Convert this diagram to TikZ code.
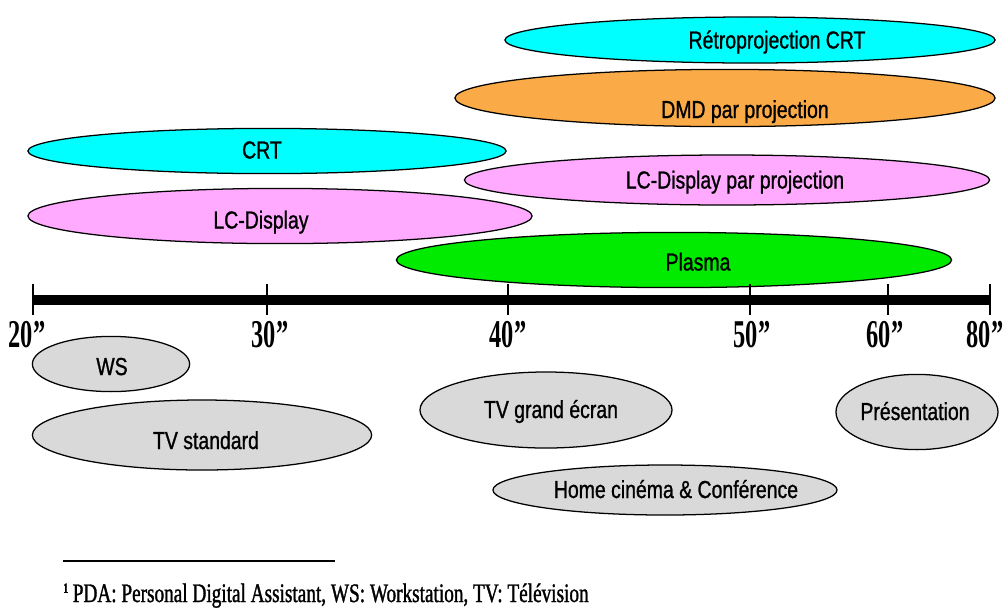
\documentclass[tikz,border=0pt]{standalone}
\usepackage{fontspec}
\usepackage{xcolor}
\usepackage{tikz}
\usetikzlibrary{shapes.geometric}

\newfontfamily\bandfont[FakeStretch=0.79,FakeBold=1]{Liberation Sans}
\newfontfamily\tickfont[FakeStretch=0.62]{Liberation Serif}
\newfontfamily\notefont[FakeStretch=0.72,FakeBold=1.2]{Liberation Serif}

\definecolor{crtcyan}{RGB}{0,255,255}
\definecolor{dmdorange}{RGB}{250,170,70}
\definecolor{lcdpink}{RGB}{255,170,255}
\definecolor{plasmagreen}{RGB}{0,235,0}
\definecolor{usegray}{RGB}{217,217,217}

\tikzset{
  band/.style={ellipse, draw=black, line width=0.9pt, inner sep=0pt},
  bandtext/.style={font=\bandfont\fontsize{17.5}{20}\selectfont, inner sep=0pt, anchor=base},
  ticklabel/.style={font=\tickfont\bfseries\fontsize{28}{30}\selectfont, inner sep=0pt, anchor=base},
}

\begin{document}
\begin{tikzpicture}[x=0.025cm, y=-0.025cm]
    \useasboundingbox (0,0) rectangle (1003,607);
    % technologies above the axis
    \node[band, fill=crtcyan, minimum width=12.25cm, minimum height=1.15cm] (retro) at (750,40) {};
    \node[bandtext] (retro-t) at (777,48.5) {Rétroprojection CRT};
    \node[band, fill=dmdorange, minimum width=13.5cm, minimum height=1.43cm] (dmd) at (725,98) {};
    \node[bandtext] (dmd-t) at (745,118) {DMD par projection};
    \node[band, fill=lcdpink, minimum width=13.125cm, minimum height=1.25cm] (lcp) at (727,180) {};
    \node[bandtext] (lcp-t) at (735,188.5) {LC-Display par projection};
    \node[band, fill=crtcyan, minimum width=11.95cm, minimum height=1.13cm] (crt) at (267,151) {};
    \node[bandtext] (crt-t) at (262,158.5) {CRT};
    \node[band, fill=plasmagreen, minimum width=13.875cm, minimum height=1.38cm] (plasma) at (674,260) {};
    \node[bandtext] (plasma-t) at (698,270.5) {Plasma};
    \node[band, fill=lcdpink, minimum width=12.6cm, minimum height=1.38cm] (lcd) at (280,216) {};
    \node[bandtext] (lcd-t) at (261,228.5) {LC-Display};

    % axis
    \coordinate (axl) at (33,300);
    \coordinate (axr) at (990,300);
    \draw[line width=7pt] (axl) -- (axr);
    \foreach \tx/\lx/\v in {33/27/20, 267/270/30, 508/508/40, 750/752/50, 888/885/60, 990/985/80} {
        \draw[line width=1pt] (\tx,284) -- (\tx,315);
        \node[ticklabel] (tick-\v) at (\lx,347) {\v”};
    }

    % uses below the axis
    \node[band, fill=usegray, minimum width=3.93cm, minimum height=1.38cm] (ws) at (111,364) {};
    \node[bandtext] (ws-t) at (112,375) {WS};
    \node[band, fill=usegray, minimum width=8.48cm, minimum height=1.75cm] (tvstd) at (202,435) {};
    \node[bandtext] (tvstd-t) at (206,449) {TV standard};
    \node[band, fill=usegray, minimum width=6.3cm, minimum height=1.9cm] (tvgrand) at (546,410) {};
    \node[bandtext] (tvgrand-t) at (551,418) {TV grand écran};
    \node[band, fill=usegray, minimum width=8.6cm, minimum height=1.25cm] (home) at (665,490) {};
    \node[bandtext] (home-t) at (676,498) {Home cinéma \& Conférence};
    \node[band, fill=usegray, minimum width=4.05cm, minimum height=1.88cm] (pres) at (917,412) {};
    \node[bandtext] (pres-t) at (915,420) {Présentation};

    % footnote
    \coordinate (fnl) at (63,561);
    \coordinate (fnr) at (335,561);
    \draw[line width=1.4pt] (fnl) -- (fnr);
    \node[font=\notefont\fontsize{19}{22}\selectfont, inner sep=0pt, anchor=base west] (note) at (63,602)
        {\raisebox{0.75ex}{\bfseries\fontsize{10}{12}\selectfont 1}\,PDA: Personal Digital Assistant, WS: Workstation, TV: Télévision};
\end{tikzpicture}
\end{document}
